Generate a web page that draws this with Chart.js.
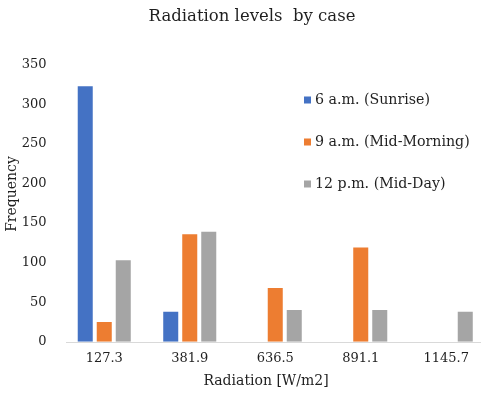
<!DOCTYPE html>
<html>
<head>
<meta charset="utf-8">
<script src="https://cdn.jsdelivr.net/npm/chart.js@4/dist/chart.umd.min.js"></script>
<style>
  html, body { margin: 0; padding: 0; background: #fff; overflow: hidden; }
  #wrap { width: 500px; height: 394px; }
</style>
</head>
<body>
<div id="wrap"><canvas id="c" width="500" height="394"></canvas></div>
<script>
const categories = ['127.3', '381.9', '636.5', '891.1', '1145.7'];
const sunrise    = [323, 38, 0, 0, 0];
const midMorning = [25, 136, 68, 119, 0];
const midDay     = [103, 139, 40, 40, 38];
const seriesNames = ['6 a.m. (Sunrise)', '9 a.m. (Mid-Morning)', '12 p.m. (Mid-Day)'];
const seriesColors = ['#4472C4', '#ED7D31', '#A5A5A5'];
const yTicks = { min: 0, max: 350, step: 50 };
const chartTitle = 'Radiation levels  by case';
const xTitle = 'Radiation [W/m2]';
const yTitle = 'Frequency';

const FONT = '"DejaVu Serif", "Liberation Serif", serif';
const TEXT = '#1f1f1f';

const decorPlugin = {
  id: 'decor',
  afterDraw(chart) {
    const ctx = chart.ctx;
    const area = chart.chartArea;
    ctx.save();
    // x axis line
    ctx.strokeStyle = '#D9D9D9';
    ctx.lineWidth = 1;
    ctx.beginPath();
    ctx.moveTo(66, Math.round(area.bottom) + 0.5);
    ctx.lineTo(chart.width, Math.round(area.bottom) + 0.5);
    ctx.stroke();
    ctx.fillStyle = TEXT;
    // title
    ctx.font = '16.5px ' + FONT;
    ctx.textAlign = 'center';
    ctx.textBaseline = 'middle';
    ctx.fillText(chartTitle, 252, 17);
    // x title
    ctx.font = '14px ' + FONT;
    ctx.fillText(xTitle, 266, 381);
    // y title
    ctx.save();
    ctx.translate(12, 194);
    ctx.rotate(-Math.PI / 2);
    ctx.fillText(yTitle, 0, 0);
    ctx.restore();
    // legend
    ctx.font = '14.2px ' + FONT;
    ctx.textAlign = 'left';
    chart.data.datasets.forEach((ds, i) => {
      const y = 100 + i * 42;
      ctx.fillStyle = ds.backgroundColor;
      ctx.fillRect(304, y - 3.5, 7, 7);
      ctx.fillStyle = TEXT;
      ctx.fillText(ds.label, 315, y);
    });
    ctx.restore();
  }
};

new Chart(document.getElementById('c'), {
  type: 'bar',
  data: {
    labels: categories,
    datasets: [
      { label: seriesNames[0], data: sunrise,    backgroundColor: seriesColors[0] },
      { label: seriesNames[1], data: midMorning, backgroundColor: seriesColors[1] },
      { label: seriesNames[2], data: midDay,     backgroundColor: seriesColors[2] }
    ]
  },
  options: {
    responsive: false,
    animation: false,
    devicePixelRatio: 1,
    categoryPercentage: 0.667,
    barPercentage: 0.79,
    layout: { padding: { top: 65, right: 11, left: 0, bottom: 0 } },
    plugins: {
      legend: { display: false },
      title: { display: false },
      tooltip: { enabled: false }
    },
    scales: {
      x: {
        grid: { display: false, drawTicks: false },
        border: { display: false },
        ticks: { color: TEXT, font: { family: FONT, size: 13 }, padding: 9, maxRotation: 0 },
        afterFit(s) { s.height = 52.3; }
      },
      y: {
        min: yTicks.min,
        max: yTicks.max,
        grid: { display: false, drawTicks: false },
        border: { display: false },
        ticks: { stepSize: yTicks.step, color: TEXT, font: { family: FONT, size: 13 }, padding: 15 },
        afterFit(s) { s.width = 61.5; }
      }
    }
  },
  plugins: [decorPlugin]
});
</script>
</body>
</html>
